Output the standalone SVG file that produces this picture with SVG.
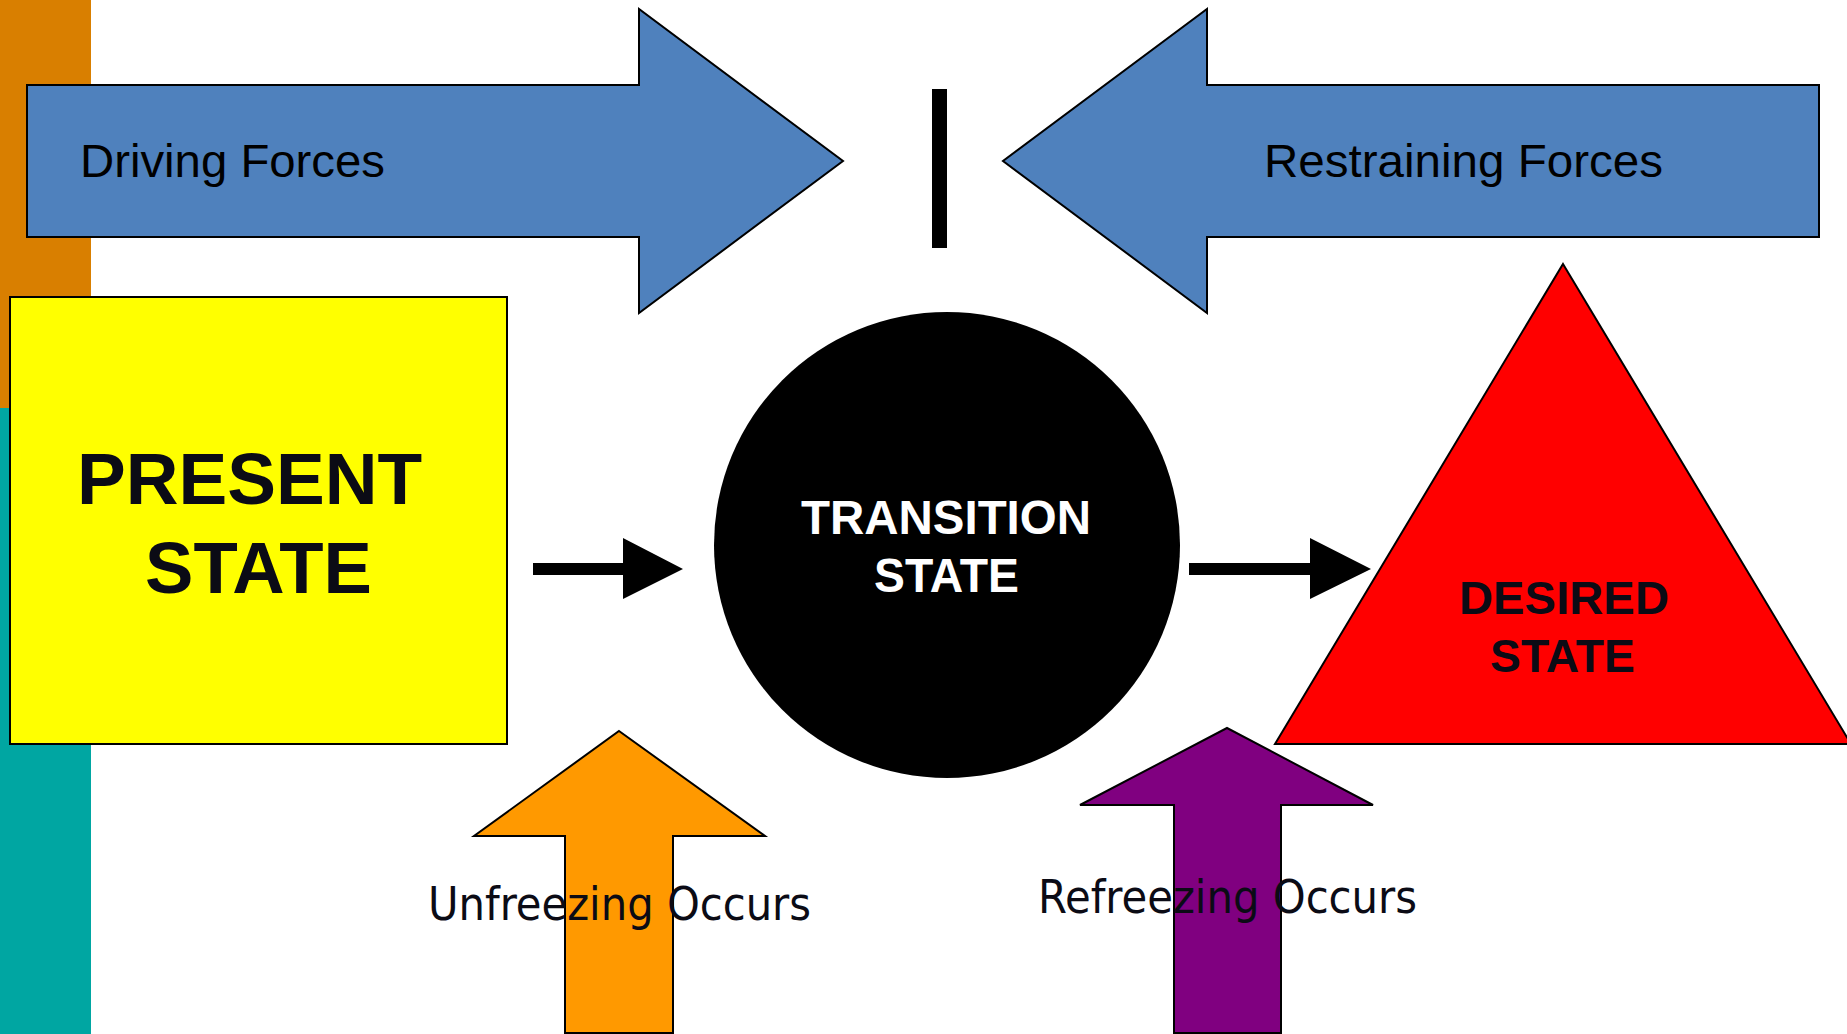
<svg xmlns="http://www.w3.org/2000/svg" width="1847" height="1034" viewBox="0 0 1847 1034">
<style>
.shape{stroke:#000;stroke-width:2;stroke-linejoin:miter}
.lbl{font-family:"Liberation Sans",Arial,sans-serif;fill:#000}
.bold{font-family:"Liberation Sans",Arial,sans-serif;font-weight:bold;fill:#0b0b15}
.occ{font-family:"DejaVu Sans Condensed","DejaVu Sans",sans-serif;fill:#0b0b15}
</style>
<rect width="1847" height="1034" fill="#fff"/>
<g id="background">
<rect x="0" y="0" width="91" height="408" fill="#d97f00"/>
<rect x="0" y="408" width="91" height="626" fill="#00a6a2"/>
</g>
<g id="driving-forces">
<polygon class="shape" fill="#4f81bd" points="27,85 639,85 639,9 843,161 639,313 639,237 27,237"/>
<text class="lbl" x="80" y="177" font-size="46" textLength="305" lengthAdjust="spacingAndGlyphs">Driving Forces</text>
</g>
<g id="restraining-forces">
<polygon class="shape" fill="#4f81bd" points="1819,85 1207,85 1207,9 1003,161 1207,313 1207,237 1819,237"/>
<text class="lbl" x="1264" y="177" font-size="46" textLength="399" lengthAdjust="spacingAndGlyphs">Restraining Forces</text>
</g>
<g id="balance-bar">
<rect x="932" y="89" width="15" height="159" fill="#000"/>
</g>
<g id="present-state">
<rect class="shape" x="10" y="297" width="497" height="447" fill="#ffff00"/>
<text class="bold" x="77" y="504" font-size="73" textLength="345" lengthAdjust="spacingAndGlyphs">PRESENT</text>
<text class="bold" x="145" y="593" font-size="73" textLength="227" lengthAdjust="spacingAndGlyphs">STATE</text>
</g>
<g id="transition-state">
<ellipse cx="947" cy="545" rx="233" ry="233" fill="#000"/>
<text class="bold" style="fill:#fff" x="801" y="534" font-size="48" textLength="290" lengthAdjust="spacingAndGlyphs">TRANSITION</text>
<text class="bold" style="fill:#fff" x="874" y="592" font-size="48" textLength="145" lengthAdjust="spacingAndGlyphs">STATE</text>
</g>
<g id="desired-state">
<polygon class="shape" fill="#ff0000" points="1563,264 1851,744 1275,744"/>
<text class="bold" x="1459" y="614" font-size="47" textLength="210" lengthAdjust="spacingAndGlyphs">DESIRED</text>
<text class="bold" x="1490" y="672" font-size="47" textLength="145" lengthAdjust="spacingAndGlyphs">STATE</text>
</g>
<g id="connectors">
<polygon fill="#000" points="533,563 623,563 623,538 683,569 623,599 623,575 533,575"/>
<polygon fill="#000" points="1189,563 1310,563 1310,538 1371,569 1310,599 1310,575 1189,575"/>
</g>
<g id="unfreezing">
<polygon class="shape" fill="#ff9900" points="619,731 765,836 673,836 673,1033 565,1033 565,836 474,836"/>
<text class="occ" x="428" y="920" font-size="46" textLength="383" lengthAdjust="spacingAndGlyphs">Unfreezing Occurs</text>
</g>
<g id="refreezing">
<polygon class="shape" fill="#800080" points="1227,728 1373,805 1281,805 1281,1033 1174,1033 1174,805 1080,805"/>
<text class="occ" x="1038" y="913" font-size="46" textLength="379" lengthAdjust="spacingAndGlyphs">Refreezing Occurs</text>
</g>
</svg>
